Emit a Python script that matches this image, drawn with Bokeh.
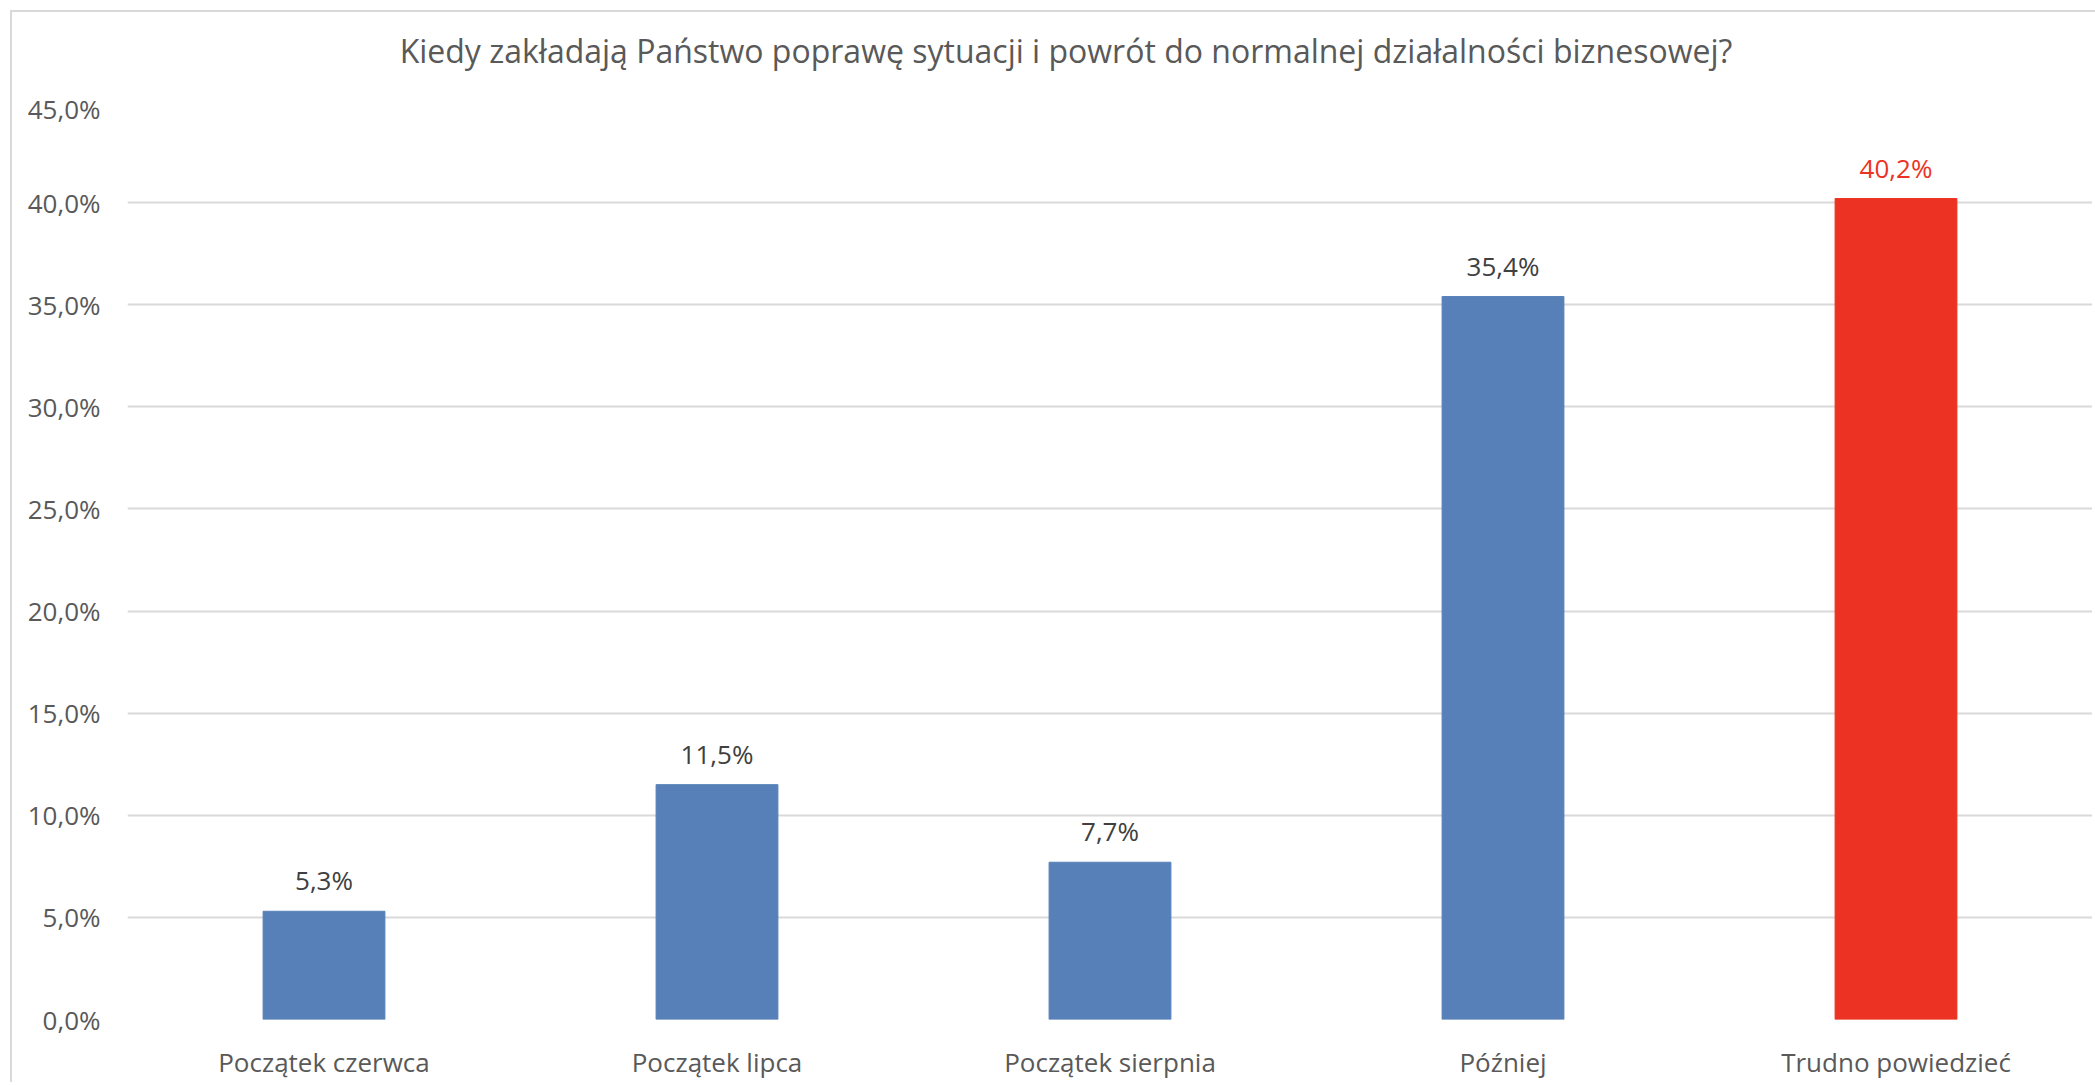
from bokeh.plotting import figure
from bokeh.models import ColumnDataSource, FactorRange, Range1d, FixedTicker, LabelSet, Div, InlineStyleSheet
from bokeh.layouts import column
from bokeh.core.properties import value
from bokeh.embed import file_html
from bokeh.resources import INLINE

categories = ["Początek czerwca", "Początek lipca", "Początek sierpnia", "Później", "Trudno powiedzieć"]
values = [5.3, 11.5, 7.7, 35.4, 40.2]
bar_colors = ["#5880B8", "#5880B8", "#5880B8", "#5880B8", "#EC3323"]
label_colors = ["#404040", "#404040", "#404040", "#404040", "#EC3323"]
y_ticks = [0, 5, 10, 15, 20, 25, 30, 35, 40, 45]
y_tick_labels = ["0,0%", "5,0%", "10,0%", "15,0%", "20,0%", "25,0%", "30,0%", "35,0%", "40,0%", "45,0%"]
title_text = "Kiedy zakładają Państwo poprawę sytuacji i powrót do normalnej działalności biznesowej?"

FONT = "Open Sans"
TEXT = "#595959"

src = ColumnDataSource(dict(
    cat=categories,
    val=values,
    color=bar_colors,
    lcolor=label_colors,
    label=[("%.1f" % v).replace(".", ",") + "%" for v in values],
))

title = Div(text=title_text, width=2080, height=68,
            styles={"font-family": FONT, "font-size": "32px", "color": TEXT,
                    "text-align": "center", "line-height": "68px", "text-indent": "18px",
                    "white-space": "nowrap", "background": "white"})

p = figure(
    width=2080, height=992,
    x_range=FactorRange(*categories, range_padding=0),
    y_range=Range1d(0, 45),
    output_backend="svg", toolbar_location=None,
    min_border_left=115, min_border_right=0, min_border_top=10, min_border_bottom=60,
)
p.outline_line_color = None
p.background_fill_color = "white"
p.border_fill_color = "white"

p.vbar(x="cat", top="val", width=0.31, color="color", source=src)

labels = LabelSet(x="cat", y="val", text="label", source=src, text_align="center",
                  text_baseline="bottom", y_offset=13, text_font_size="26px",
                  text_color="lcolor", text_font=value(FONT))
p.add_layout(labels)

p.yaxis.ticker = FixedTicker(ticks=y_ticks)
p.yaxis.major_label_overrides = {t: l for t, l in zip(y_ticks, y_tick_labels)}
p.yaxis.axis_line_color = None
p.yaxis.major_tick_line_color = None
p.yaxis.minor_tick_line_color = None
p.yaxis.major_label_standoff = 21
p.yaxis.major_label_text_font = FONT
p.yaxis.major_label_text_font_size = "26px"
p.yaxis.major_label_text_color = TEXT

p.xaxis.axis_line_color = None
p.xaxis.major_tick_line_color = None
p.xaxis.minor_tick_line_color = None
p.xaxis.major_label_standoff = 18
p.xaxis.major_label_text_font = FONT
p.xaxis.major_label_text_font_size = "26px"
p.xaxis.major_label_text_color = TEXT

p.xgrid.grid_line_color = None
p.ygrid.grid_line_color = "#D9D9D9"
p.ygrid.grid_line_width = 2

layout = column(title, p, spacing=0)
layout.stylesheets = [InlineStyleSheet(css=":host { margin-top: 10px; margin-left: 10px; border-top: 2px solid #D9D9D9; border-left: 2px solid #D9D9D9; background: white; }")]

open("out.html", "w").write(file_html(layout, INLINE))
